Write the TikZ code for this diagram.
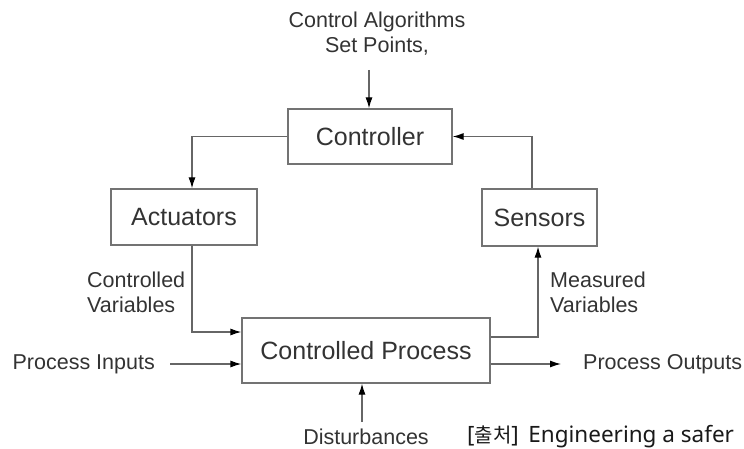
\documentclass[tikz,border=0pt]{standalone}
\usepackage{fontspec}
\setmainfont{Liberation Sans}
\newfontfamily\krFont{Noto Sans CJK KR}
\newfontfamily\srcFont{Noto Sans}
\usetikzlibrary{arrows.meta}
\begin{document}
\begin{tikzpicture}[x=1pt,y=-1pt,
  box/.style={draw=black!55, line width=1.2pt, inner sep=0pt, text=black!80, font=\fontsize{25}{25}\selectfont},
  lbl/.style={inner sep=0pt, text=black!80, font=\fontsize{21.5}{25}\selectfont},
  flow/.style={draw=black!60, line width=1.2pt, -{Latex[length=11pt,width=7pt,black]}}]
\useasboundingbox (0,0) rectangle (744,449);
\node[box, minimum width=164, minimum height=55] (ctrl) at (370,136.5) {Controller};
\node[box, minimum width=146, minimum height=56] (act) at (184,217) {Actuators};
\node[box, minimum width=115, minimum height=57] (sens) at (539.5,217.5) {Sensors};
\node[box, minimum width=248, minimum height=65] (proc) at (366,350.5) {Controlled Process};
\node[lbl, align=center, anchor=north] (setpts) at (377,11.5) {Control Algorithms\\Set Points,};
\node[lbl, align=left, anchor=north west] (cvar) at (87,271.5) {Controlled\\Variables};
\node[lbl, align=left, anchor=north west] (mvar) at (550,271.5) {Measured\\Variables};
\node[lbl, anchor=east] (pin) at (155,364) {Process Inputs};
\node[lbl, anchor=west] (pout) at (583,364) {Process Outputs};
\node[lbl] (dist) at (366,437) {Disturbances};
\node[anchor=base west, inner sep=0pt, text=black!90, font=\srcFont\fontsize{22.5}{22.5}\selectfont] (src) at (467,442.5) {[{\krFont\fontsize{20}{20}\selectfont 출처}]\, Engineering a safer};
\coordinate (setout) at (369,70);
\coordinate (distout) at (362,422);
\draw[flow] (setout) -- (setout |- ctrl.north);
\draw[flow] (ctrl.west) -| ([xshift=8pt]act.north);
\draw[flow] ([xshift=8pt]act.south) |- ([yshift=18.5pt]proc.west);
\draw[flow] ([xshift=15pt]pin.east) -- (pin.east -| proc.west);
\draw[flow] (proc.east |- pout.west) -- ([xshift=-22pt]pout.west);
\draw[flow] ([yshift=13.5pt]proc.east) -| ([xshift=-1.5pt]sens.south);
\draw[flow] ([xshift=-7.5pt]sens.north) |- (ctrl.east);
\draw[flow] (distout) -- (distout |- proc.south);
\end{tikzpicture}
\end{document}
